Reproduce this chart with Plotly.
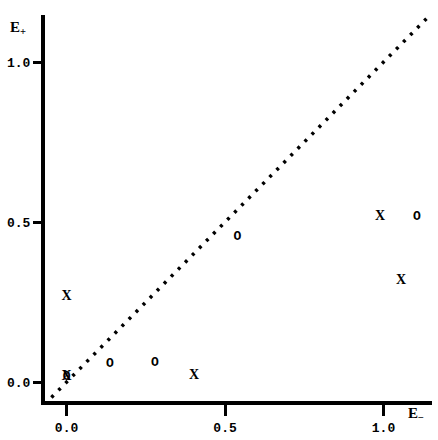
import plotly.graph_objects as go

# data
o_x = [0.0, 0.137, 0.279, 0.539, 1.105]
o_y = [0.017, 0.058, 0.059, 0.454, 0.517]
x_x = [0.0, 0.0, 0.402, 0.989, 1.055]
x_y = [0.017, 0.267, 0.022, 0.517, 0.319]
diag = [-0.07, 1.155]
tick_vals = [0.0, 0.5, 1.0]
tick_text = ["0.0", "0.5", "1.0"]

fam = "Liberation Mono, Courier New, monospace"
serif = "Liberation Serif, Times New Roman, serif"
font = dict(family=serif, size=15, color="black", weight="bold")

fig = go.Figure()
fig.add_trace(go.Scatter(x=diag, y=diag, mode="lines",
                         line=dict(color="black", width=3.5, dash="3px,7px"),
                         hoverinfo="skip"))
fig.add_trace(go.Scatter(x=o_x, y=o_y, mode="text", text=["O"] * len(o_x),
                         textfont=dict(family=fam, size=13, color="black", weight="bold")))
fig.add_trace(go.Scatter(x=x_x, y=x_y, mode="text", text=["X"] * len(x_x),
                         textfont=dict(family=serif, size=14, color="black", weight="bold")))

axis_common = dict(showline=True, linewidth=4, linecolor="black", showgrid=False,
                   zeroline=False, ticks="outside", tickwidth=3, tickcolor="black",
                   tickvals=tick_vals, ticktext=tick_text, automargin=False,
                   tickfont=dict(family=fam, size=13, color="black", weight="bold"))
fig.update_layout(
    width=438, height=440,
    margin=dict(l=45, r=6, t=15, b=39),
    plot_bgcolor="white", paper_bgcolor="white",
    showlegend=False,
    xaxis=dict(range=[-0.068, 1.153], ticklen=11, **axis_common),
    yaxis=dict(range=[-0.059, 1.147], ticklen=8, **axis_common),
    annotations=[
        dict(text="E<sub>+</sub>", x=-0.07, y=0.966, xref="paper", yref="paper",
             xanchor="center", yanchor="middle", showarrow=False, font=font),
        dict(text="E<sub>−</sub>", x=0.959, y=-0.034, xref="paper", yref="paper",
             xanchor="center", yanchor="middle", showarrow=False, font=font),
    ],
)
fig.write_html("out.html", config={"displayModeBar": False},
               post_script="document.body.style.margin='0';")
